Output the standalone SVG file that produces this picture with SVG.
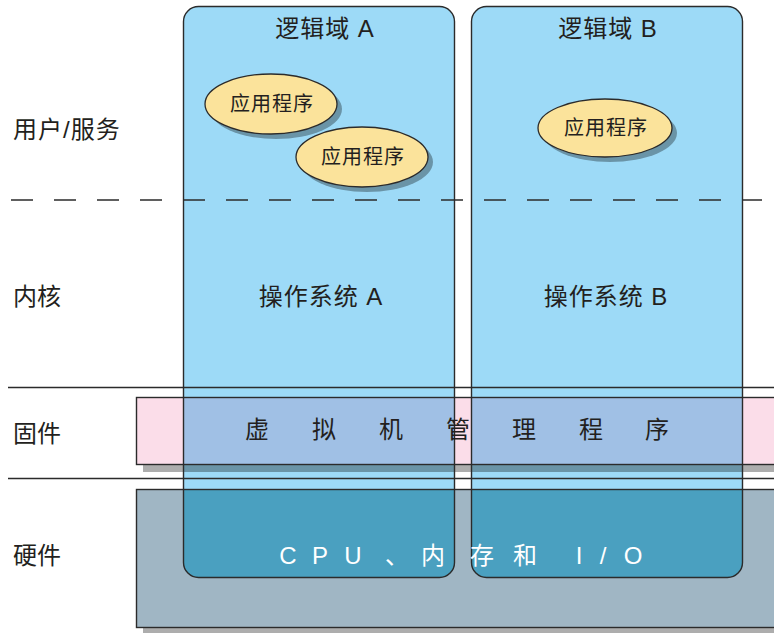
<svg xmlns="http://www.w3.org/2000/svg" width="774" height="633" viewBox="0 0 774 633">
<style>
.t{font-family:"Liberation Sans","Noto Sans CJK SC",sans-serif;fill:#231f20}
.w{font-family:"Liberation Sans","Noto Sans CJK SC",sans-serif;fill:#ffffff}
.edge{fill:none;stroke:#2b2b2b;stroke-width:1.4}
.shadow{fill:#000;opacity:0.32}
.app{fill:#fbe39b;stroke:#2b2b2b;stroke-width:1.3}
.line{stroke:#2b2b2b;stroke-width:1.3;fill:none}
</style>
<defs>
<clipPath id="domClip">
<rect x="183.5" y="6.5" width="271" height="571" rx="15" ry="15"/>
<rect x="471.5" y="6.5" width="271" height="571" rx="15" ry="15"/>
</clipPath>
</defs>
<rect width="774" height="633" fill="#ffffff"/>
<g id="domain-fills">
<rect x="183.5" y="6.5" width="271" height="571" rx="15" ry="15" fill="#9ddaf7"/>
<rect x="471.5" y="6.5" width="271" height="571" rx="15" ry="15" fill="#9ddaf7"/>
</g>
<g id="firmware">
<rect class="shadow" x="143" y="404" width="650" height="68"/>
<rect x="136.5" y="397.5" width="650" height="67" fill="#fbdde9"/>
<rect x="136.5" y="397.5" width="650" height="67" fill="#a0c0e5" clip-path="url(#domClip)"/>
<rect class="edge" x="136.5" y="397.5" width="650" height="67"/>
</g>
<g id="hardware">
<rect class="shadow" x="143" y="496" width="650" height="137"/>
<rect x="136.5" y="489.5" width="650" height="138" fill="#a0b6c4"/>
<rect x="136.5" y="489.5" width="650" height="138" fill="#4aa0c0" clip-path="url(#domClip)"/>
<rect class="edge" x="136.5" y="489.5" width="650" height="138"/>
</g>
<g id="domain-a">
<rect class="edge" x="183.5" y="6.5" width="271" height="571" rx="15" ry="15"/>
<text class="t" x="325" y="36.5" font-size="24" letter-spacing="1" text-anchor="middle">逻辑域 A</text>
<text class="t" x="321" y="305" font-size="24" letter-spacing="1" text-anchor="middle">操作系统 A</text>
</g>
<g id="domain-b">
<rect class="edge" x="471.5" y="6.5" width="271" height="571" rx="15" ry="15"/>
<text class="t" x="608" y="36.5" font-size="24" letter-spacing="1" text-anchor="middle">逻辑域 B</text>
<text class="t" x="606" y="305" font-size="24" letter-spacing="1" text-anchor="middle">操作系统 B</text>
</g>
<g id="connectors">
<line class="line" x1="11" y1="200" x2="762" y2="200" stroke-dasharray="22 21"/>
<line class="line" x1="8" y1="387.5" x2="774" y2="387.5"/>
<line class="line" x1="8" y1="478.5" x2="774" y2="478.5"/>
</g>
<g id="app-1">
<ellipse class="shadow" cx="276" cy="109" rx="66" ry="30"/>
<ellipse class="app" cx="271" cy="104" rx="66" ry="30"/>
<text class="t" x="272" y="111" font-size="20" letter-spacing="1" text-anchor="middle">应用程序</text>
</g>
<g id="app-2">
<ellipse class="shadow" cx="367" cy="162" rx="66" ry="30"/>
<ellipse class="app" cx="362" cy="157" rx="66" ry="30"/>
<text class="t" x="363" y="164" font-size="20" letter-spacing="1" text-anchor="middle">应用程序</text>
</g>
<g id="app-3">
<ellipse class="shadow" cx="610" cy="133" rx="67" ry="29"/>
<ellipse class="app" cx="605" cy="128" rx="67" ry="29"/>
<text class="t" x="606" y="134.5" font-size="20" letter-spacing="1" text-anchor="middle">应用程序</text>
</g>
<g id="firmware-label">
<text class="t" font-size="24" text-anchor="middle" x="257 324 391 458 524 591 657" y="438">虚拟机管理程序</text>
</g>
<g id="hardware-label">
<text class="w" font-size="24" text-anchor="middle" x="288 320 353 397 433 482 525 579 603 633" y="564">CPU、内存和I/O</text>
</g>
<g id="layer-labels">
<text class="t" x="13" y="138" font-size="24" letter-spacing="1">用户/服务</text>
<text class="t" x="13" y="305" font-size="24">内核</text>
<text class="t" x="13" y="442" font-size="24">固件</text>
<text class="t" x="13" y="564" font-size="24">硬件</text>
</g>
</svg>
